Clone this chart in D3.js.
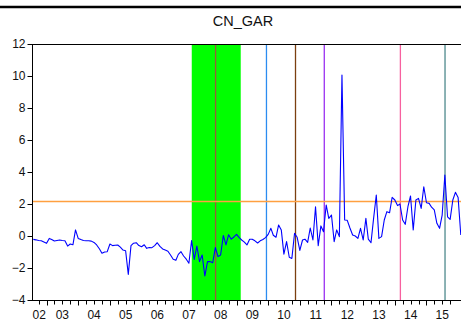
<!DOCTYPE html>
<html>
<head>
<meta charset="utf-8">
<script src="https://cdn.jsdelivr.net/npm/d3@7"></script>
<style>
  html, body { margin: 0; padding: 0; background: #fff; }
  svg { display: block; font-family: "Liberation Sans", Arial, sans-serif; }
</style>
</head>
<body>
<svg id="chart" width="461" height="322"></svg>
<script>
// ---------------- data ----------------
const title = "CN_GAR";
const seriesStart = "2002-08";   // first monthly observation
const gar = [
  -0.21, -0.24, -0.28, -0.30, -0.38, -0.46, -0.15, -0.22, -0.31, -0.28,
  -0.25, -0.28, -0.30, -0.63, -0.50, -0.55,  0.38, -0.15, -0.22, -0.28,
  -0.30, -0.30, -0.32, -0.40, -0.56, -0.80, -1.08, -1.00, -0.98, -0.50,
  -0.60, -0.58, -0.56, -0.70, -0.88, -0.92, -2.40, -0.60, -0.45, -0.42,
  -0.60, -0.67, -0.55, -0.77, -0.72, -0.73, -0.60, -0.42, -0.65, -0.81,
  -0.88, -0.95, -1.19, -1.45, -1.52, -1.15, -0.98, -1.25, -1.45, -1.70,
  -0.29, -1.46, -0.63, -1.60, -1.19, -2.50, -1.60, -1.60, -1.67, -0.72,
  -1.29, -1.19,  0.03, -0.56,  0.08, -0.20, -0.06,  0.10, -0.10, -0.25,
  -0.38, -0.56, -0.20, -0.20, -0.30, -0.44, -0.30, -0.22, -0.10,  0.10,
   0.48,  0.05, -0.08,  0.69,  0.38, -1.13, -0.35, -1.33, -1.40,  0.17,
  -0.08, -0.90, -0.25, -0.20, -0.40,  0.50, -0.25,  1.83, -0.60,  0.63,
   0.27,  1.94,  1.10,  1.31, -0.35,  0.38, -0.04, 10.06,  1.00,  0.98,
   0.50,  0.06,  0.00, -0.15,  0.48, -0.25,  1.10, -0.20, -0.42,  1.10,
   2.56, -0.15, -0.04,  1.00,  1.52,  1.45,  2.42,  2.25,  1.90,  2.00,
   1.00,  0.73,  1.83,  2.50,  0.38,  2.25,  2.35,  1.73,  3.08,  2.08,
   2.04,  1.80,  1.63,  0.79,  0.48,  1.31,  3.81,  1.20,  1.04,  2.25,
   2.73,  2.40,  0.06
];
const threshold = 2.15;                       // horizontal reference line
const shadeStart = "2007-08-03";              // shaded period
const shadeEnd = "2009-02-18";
const eventDates  = ["2008-05-04", "2009-12-12", "2010-11-12", "2011-10-10", "2014-03-06", "2015-08-03"];
const eventColors = ["#9a5a3a", "#2b8cf0", "#7b3f10", "#9a30f0", "#f7609f", "#4e8a8c"];
const yTicks = [-4, -2, 0, 2, 4, 6, 8, 10, 12];
const years = [2002, 2003, 2004, 2005, 2006, 2007, 2008, 2009, 2010, 2011, 2012, 2013, 2014, 2015];
const yearLabels = ["02", "03", "04", "05", "06", "07", "08", "09", "10", "11", "12", "13", "14", "15"];

// ---------------- chart ----------------
const svg = d3.select("#chart");
const plotL = 32, plotR = 464, plotT = 44, plotB = 300;
const parse = d3.timeParse("%Y-%m");
const parseD = d3.timeParse("%Y-%m-%d");
const t0 = parse(seriesStart);
const pts = gar.map((v, i) => ({ date: d3.timeMonth.offset(t0, i), value: v }));
const tEnd = d3.timeMonth.offset(t0, gar.length - 1);

const x = d3.scaleTime().domain([t0, tEnd]).range([33.3, 460.8]);
const y = d3.scaleLinear().domain([-4, 12]).range([plotB, plotT]);

svg.append("defs").append("clipPath").attr("id", "clip")
  .append("rect").attr("x", plotL).attr("y", plotT).attr("width", plotR - plotL).attr("height", plotB - plotT);

// top rule (cropped header)
svg.append("line").attr("x1", 0).attr("x2", 461).attr("y1", 7).attr("y2", 7)
  .attr("stroke", "#000").attr("stroke-width", 2.5);

// title
svg.append("text").attr("x", 243).attr("y", 26).attr("text-anchor", "middle")
  .attr("font-size", 14.5).attr("fill", "#111").text(title);

const g = svg.append("g").attr("clip-path", "url(#clip)");

// shaded band
g.append("rect")
  .attr("x", x(parseD(shadeStart))).attr("y", plotT)
  .attr("width", x(parseD(shadeEnd)) - x(parseD(shadeStart)))
  .attr("height", plotB - plotT).attr("fill", "#00ff00");

// event lines
g.selectAll("line.ev").data(eventDates).join("line").attr("class", "ev")
  .attr("x1", d => x(parseD(d))).attr("x2", d => x(parseD(d)))
  .attr("y1", plotT).attr("y2", plotB)
  .attr("stroke", (d, i) => eventColors[i]).attr("stroke-width", 1.3);

// threshold line
g.append("line").attr("x1", plotL).attr("x2", plotR)
  .attr("y1", y(threshold)).attr("y2", y(threshold))
  .attr("stroke", "#ffa040").attr("stroke-width", 1.5);

// series
g.append("path").datum(pts)
  .attr("fill", "none").attr("stroke", "#0000ff").attr("stroke-width", 1.1)
  .attr("stroke-linejoin", "round")
  .attr("d", d3.line().x(d => x(d.date)).y(d => y(d.value)));

// frame
svg.append("line").attr("x1", plotL).attr("x2", plotR).attr("y1", plotT + 0.5).attr("y2", plotT + 0.5)
  .attr("stroke", "#000").attr("stroke-width", 1);

// y axis
const yAxis = svg.append("g").attr("transform", `translate(${plotL + 0.5},0)`)
  .call(d3.axisLeft(y).tickValues(yTicks).tickSize(5).tickPadding(2).tickFormat(d3.format("d")));
yAxis.select(".domain").attr("stroke", "#000").attr("d", `M0,${plotT}V${plotB}`);
yAxis.selectAll(".tick line").attr("stroke", "#000");
yAxis.selectAll(".tick text").attr("font-size", 12).attr("fill", "#111")
  .attr("font-family", "'Liberation Sans', Arial, sans-serif");

// x axis
const quarterTicks = d3.timeMonth.every(3).range(t0, d3.timeMonth.offset(tEnd, 1))
  .filter(d => d.getMonth() !== 0);
const yearTicks = years.slice(1).map(yr => new Date(yr, 0, 1));
const xAxisG = svg.append("g").attr("transform", `translate(0,${plotB + 0.5})`);
xAxisG.append("line").attr("x1", plotL).attr("x2", plotR).attr("stroke", "#000");
xAxisG.selectAll("line.q").data(quarterTicks).join("line").attr("class", "q")
  .attr("x1", d => Math.round(x(d)) + 0.5).attr("x2", d => Math.round(x(d)) + 0.5)
  .attr("y1", 0).attr("y2", 4).attr("stroke", "#000");
xAxisG.selectAll("line.yr").data(yearTicks).join("line").attr("class", "yr")
  .attr("x1", d => Math.round(x(d)) + 0.5).attr("x2", d => Math.round(x(d)) + 0.5)
  .attr("y1", 0).attr("y2", 5).attr("stroke", "#000");
xAxisG.selectAll("text").data(years).join("text")
  .attr("x", (yr, i) => {
    const a = Math.max(x(new Date(yr, 0, 1)), plotL);
    const b = Math.min(x(new Date(yr + 1, 0, 1)), plotR);
    return (a + b) / 2;
  })
  .attr("y", 18).attr("text-anchor", "middle").attr("font-size", 12).attr("fill", "#111")
  .text((yr, i) => yearLabels[i]);
</script>
</body>
</html>
